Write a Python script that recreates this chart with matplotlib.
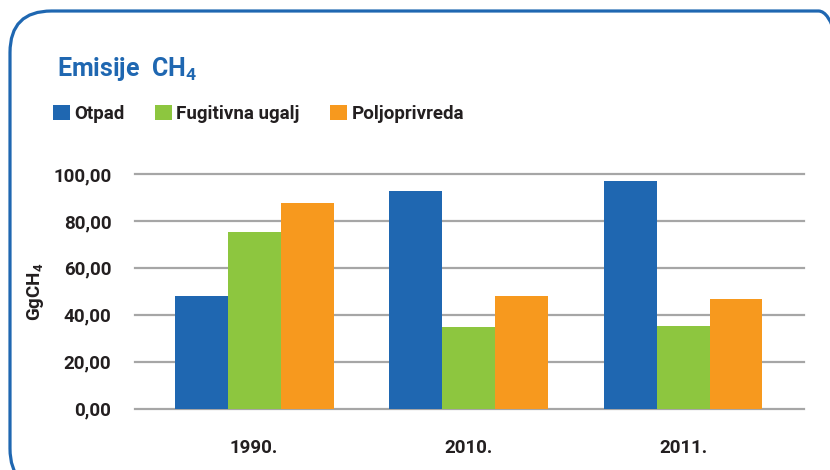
import matplotlib.pyplot as plt
import numpy as np
from matplotlib.patches import FancyBboxPatch, Patch

# Data
years = ['1990.', '2010.', '2011.']
series = ['Otpad', 'Fugitivna ugalj', 'Poljoprivreda']
otpad = [48.0, 92.8, 97.0]
fugitivna = [75.3, 34.8, 35.2]
poljoprivreda = [87.6, 48.0, 46.8]
yticks = [0, 20, 40, 60, 80, 100]

colors = ['#1f67b1', '#8dc63f', '#f7991e']
dark = '#231f20'
plt.rcParams['font.family'] = ['Roboto', 'DejaVu Sans']
plt.rcParams['font.weight'] = 'bold'
plt.rcParams['mathtext.default'] = 'regular'

W, H = 830, 470
fig = plt.figure(figsize=(W / 100, H / 100), dpi=100)

# rounded blue frame
frame = FancyBboxPatch((10 / W, -20 / H), 850 / W, 479 / H,
                       boxstyle='round,pad=0,rounding_size=0.05',
                       transform=fig.transFigure, fill=False,
                       edgecolor='#1f67b1', linewidth=2.3,
                       mutation_aspect=W / H)
fig.patches.append(frame)

ax = fig.add_axes([135 / W, 1 - 408.7 / H, (804 - 135) / W, (408.7 - 174) / H])

x = np.arange(len(years))
w = 0.247
for i, (vals, c) in enumerate(zip([otpad, fugitivna, poljoprivreda], colors)):
    ax.bar(x + (i - 1) * w, vals, width=w, color=c, zorder=3, label=series[i])

ax.set_xlim(-0.555, 2.564)
ax.set_ylim(0, 100)
ax.set_yticks(yticks)
ax.set_yticklabels([f'{v:.2f}'.replace('.', ',') for v in yticks],
                   fontsize=13.5, color=dark)
ax.set_xticks(x)
ax.set_xticklabels(years, fontsize=13.5, color=dark)
ax.tick_params(length=0)
ax.tick_params(axis='y', pad=17)
ax.tick_params(axis='x', pad=22)
ax.grid(axis='y', color='#a6a6a6', linewidth=1.6, zorder=0)
for line in ax.get_ygridlines():
    line.set_clip_on(False)
for s in ax.spines.values():
    s.set_visible(False)

ax.set_ylabel('GgCH$_4$', fontsize=13.5, color=dark, fontweight='bold')
ax.yaxis.set_label_coords(-0.133, 0.5)

fig.text(57 / W, 1 - 76 / H, 'Emisije  CH$_4$', fontsize=18, color='#1f67b1',
         fontweight='bold', va='baseline')

handles = [Patch(facecolor=c) for c in colors]
fig.legend(handles, series, loc='center left',
           bbox_to_anchor=(53 / W, 1 - 114 / H), ncol=3, frameon=False,
           fontsize=13.5, handlelength=0.9, handleheight=0.9,
           handletextpad=0.25, columnspacing=1.6, borderpad=0,
           borderaxespad=0, labelcolor=dark)

fig.savefig('out.png', dpi=100)
